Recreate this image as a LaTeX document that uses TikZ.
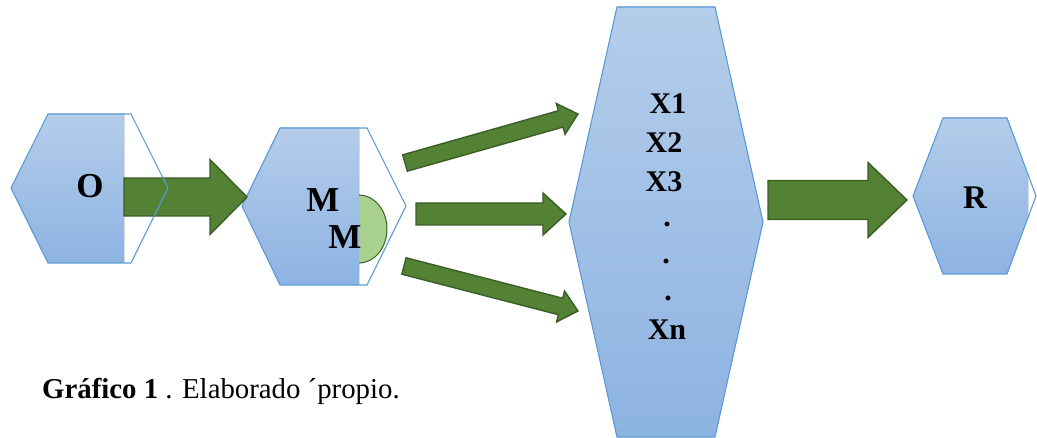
\documentclass[tikz,border=0pt]{standalone}
\usepackage{fontspec}
\setmainfont{Liberation Serif}
\usetikzlibrary{calc}
\definecolor{hexline}{HTML}{5B9BD5}
\definecolor{hextop}{HTML}{B4CDEA}
\definecolor{hexbot}{HTML}{8DB3E2}
\definecolor{arrfill}{HTML}{548235}
\definecolor{arrline}{HTML}{3B5E26}
\definecolor{lgreen}{HTML}{A9D18E}
\tikzset{
  hexfill/.style={top color=hextop, bottom color=hexbot, draw=none},
  hexedge/.style={draw=hexline, line width=1.1pt, line join=miter},
  blockarr/.style={fill=arrfill, draw=arrline, line width=1.4pt, line join=miter},
  lbl/.style={font=\bfseries\fontsize{35}{40}\selectfont, inner sep=0pt},
  xlbl/.style={font=\bfseries\fontsize{30}{34}\selectfont, inner sep=0pt},
}
\newcommand\blockarrow[5]{% from, to, body half, head half, head length
  \path let \p1=($(#2)-(#1)$) in
    \pgfextra{\pgfmathsetmacro\tmpang{atan2(\y1,\x1)}\pgfmathsetmacro\tmplen{veclen(\x1,\y1)}\xdef\arrang{\tmpang}\xdef\arrlen{\tmplen}};
  \begin{scope}[shift={(#1)}, rotate=\arrang]
    \draw[blockarr] (0,-#3) -- ({\arrlen-#5},-#3) -- ({\arrlen-#5},-#4) -- (\arrlen,0)
      -- ({\arrlen-#5},#4) -- ({\arrlen-#5},#3) -- (0,#3) -- cycle;
  \end{scope}}
\begin{document}
\begin{tikzpicture}[x=1pt, y=-1pt]
\useasboundingbox (0,0) rectangle (1037,438);
% hexagon fills
\begin{scope}
  \clip (0,0) rectangle (124,438);
  \fill[hexfill] (11,188) -- (48,114) -- (131,114) -- (168,188) -- (131,263) -- (48,263) -- cycle;
\end{scope}
\begin{scope}
  \clip (0,0) rectangle (359,438);
  \fill[hexfill] (242,206) -- (280,128) -- (367,128) -- (406,206) -- (367,285) -- (280,285) -- cycle;
\end{scope}
\fill[hexfill] (569,222) -- (617,7) -- (715,7) -- (763,222) -- (715,437) -- (617,437) -- cycle;
\begin{scope}
  \clip (0,0) rectangle (1028,438);
  \fill[hexfill] (913,196) -- (943,118) -- (1007,118) -- (1036,196) -- (1007,274) -- (943,274) -- cycle;
\end{scope}
% green half ellipse
\begin{scope}
  \clip (359,0) rectangle (420,438);
  \draw[fill=lgreen, draw=arrline, line width=1pt] (359,229) ellipse [x radius=28, y radius=34];
\end{scope}
% outlines
\draw[hexedge] (242,206) -- (280,128) -- (367,128) -- (406,206) -- (367,285) -- (280,285) -- cycle;
\draw[hexedge] (569,222) -- (617,7) -- (715,7) -- (763,222) -- (715,437) -- (617,437) -- cycle;
\draw[hexedge] (913,196) -- (943,118) -- (1007,118) -- (1036,196) -- (1007,274) -- (943,274) -- cycle;
% labels
\node[lbl] (o) at (90,186) {O};
\node[lbl] (m1) at (323,200) {M};
\node[lbl] (m2) at (345,237) {M};
\node[xlbl] (x1) at (668,104) {X1};
\node[xlbl] (x2) at (664,143) {X2};
\node[xlbl] (x3) at (664,182) {X3};
\node[xlbl] (d1) at (667,224) {.};
\node[xlbl] (d2) at (666,261) {.};
\node[xlbl] (d3) at (668,298) {.};
\node[xlbl] (xn) at (667,330) {Xn};
\node[lbl, font=\bfseries\fontsize{33}{38}\selectfont] (r) at (975,198) {R};
% connector end points
\coordinate (omS) at (124,197);  \coordinate (omE) at (247,197);
\coordinate (m1S) at (405,163);  \coordinate (m1E) at (578,114);
\coordinate (m2S) at (416,214);  \coordinate (m2E) at (566,214);
\coordinate (m3S) at (404,266);  \coordinate (m3E) at (578,311);
\coordinate (xrS) at (768,200);  \coordinate (xrE) at (907,200);
% block arrows
\blockarrow{omS}{omE}{19}{37.5}{37}
\blockarrow{m1S}{m1E}{8.5}{16}{18}
\blockarrow{m2S}{m2E}{11}{21}{23}
\blockarrow{m3S}{m3E}{8.5}{16}{18}
\blockarrow{xrS}{xrE}{19.5}{37.5}{39}
% O outline on top
\draw[hexedge] (11,188) -- (48,114) -- (131,114) -- (168,188) -- (131,263) -- (48,263) -- cycle;
% caption
\node[anchor=base west, font=\fontsize{28.8}{32}\selectfont, inner sep=0pt] (cap) at (42,399)
  {\textbf{Gráfico 1} . Elaborado ´propio.};
\end{tikzpicture}
\end{document}
